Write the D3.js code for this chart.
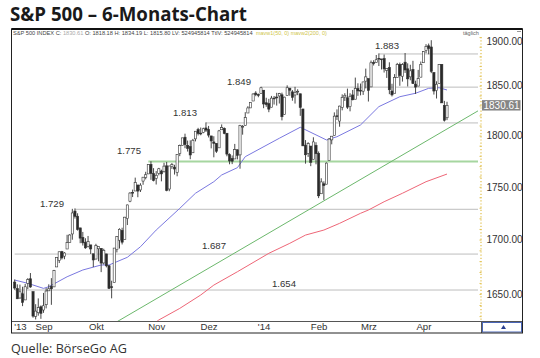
<!DOCTYPE html>
<html><head><meta charset="utf-8">
<script src="https://cdn.jsdelivr.net/npm/d3@7"></script>
<style>body{margin:0;background:#fff}svg{display:block}</style>
</head><body>
<svg id="c" width="540" height="358"></svg>
<script>
// ---------- DATA ----------
const dates = ("2013-08-16 2013-08-19 2013-08-20 2013-08-21 2013-08-22 2013-08-23 2013-08-26 2013-08-27 2013-08-28 2013-08-29 2013-08-30 " +
"2013-09-03 2013-09-04 2013-09-05 2013-09-06 2013-09-09 2013-09-10 2013-09-11 2013-09-12 2013-09-13 2013-09-16 2013-09-17 2013-09-18 2013-09-19 2013-09-20 2013-09-23 2013-09-24 2013-09-25 2013-09-26 2013-09-27 2013-09-30 " +
"2013-10-01 2013-10-02 2013-10-03 2013-10-04 2013-10-07 2013-10-08 2013-10-09 2013-10-10 2013-10-11 2013-10-14 2013-10-15 2013-10-16 2013-10-17 2013-10-18 2013-10-21 2013-10-22 2013-10-23 2013-10-24 2013-10-25 2013-10-28 2013-10-29 2013-10-30 2013-10-31 " +
"2013-11-01 2013-11-04 2013-11-05 2013-11-06 2013-11-07 2013-11-08 2013-11-11 2013-11-12 2013-11-13 2013-11-14 2013-11-15 2013-11-18 2013-11-19 2013-11-20 2013-11-21 2013-11-22 2013-11-25 2013-11-26 2013-11-27 2013-11-29 " +
"2013-12-02 2013-12-03 2013-12-04 2013-12-05 2013-12-06 2013-12-09 2013-12-10 2013-12-11 2013-12-12 2013-12-13 2013-12-16 2013-12-17 2013-12-18 2013-12-19 2013-12-20 2013-12-23 2013-12-24 2013-12-26 2013-12-27 2013-12-30 2013-12-31 " +
"2014-01-02 2014-01-03 2014-01-06 2014-01-07 2014-01-08 2014-01-09 2014-01-10 2014-01-13 2014-01-14 2014-01-15 2014-01-16 2014-01-17 2014-01-21 2014-01-22 2014-01-23 2014-01-24 2014-01-27 2014-01-28 2014-01-29 2014-01-30 2014-01-31 " +
"2014-02-03 2014-02-04 2014-02-05 2014-02-06 2014-02-07 2014-02-10 2014-02-11 2014-02-12 2014-02-13 2014-02-14 2014-02-18 2014-02-19 2014-02-20 2014-02-21 2014-02-24 2014-02-25 2014-02-26 2014-02-27 2014-02-28 " +
"2014-03-03 2014-03-04 2014-03-05 2014-03-06 2014-03-07 2014-03-10 2014-03-11 2014-03-12 2014-03-13 2014-03-14 2014-03-17 2014-03-18 2014-03-19 2014-03-20 2014-03-21 2014-03-24 2014-03-25 2014-03-26 2014-03-27 2014-03-28 2014-03-31 " +
"2014-04-01 2014-04-02 2014-04-03 2014-04-04 2014-04-07 2014-04-08 2014-04-09 2014-04-10 2014-04-11 2014-04-14").split(" ");

const openV = [1661.22,1655.25,1646.81,1650.66,1645.03,1659.92,1664.29,1652.54,1630.25,1633.50,1638.89,
1635.95,1640.72,1653.28,1657.44,1656.85,1675.11,1681.04,1689.21,1685.04,1691.70,1697.73,1705.74,1727.34,1722.44,1711.44,1702.60,1698.02,1694.05,1695.52,1687.26,
1682.41,1691.90,1692.35,1678.79,1687.15,1676.22,1656.99,1660.88,1691.09,1699.86,1709.17,1700.49,1720.17,1736.72,1745.20,1746.48,1752.27,1747.48,1756.01,1759.42,1762.93,1772.27,1763.24,
1758.70,1763.40,1765.67,1765.00,1770.74,1748.37,1769.96,1769.51,1764.37,1782.75,1790.66,1798.82,1790.79,1789.59,1783.52,1797.21,1806.33,1802.87,1803.48,1808.01,
1806.55,1800.10,1794.15,1792.82,1788.36,1806.21,1807.60,1802.76,1781.71,1777.98,1777.48,1786.47,1781.46,1809.00,1810.39,1822.92,1828.02,1834.96,1842.97,1841.47,1842.61,
1845.86,1833.21,1832.31,1828.71,1837.90,1839.00,1840.06,1841.26,1821.36,1840.52,1847.99,1844.23,1841.05,1844.71,1842.29,1826.96,1791.03,1783.00,1790.15,1777.17,1790.88,
1782.68,1743.82,1753.38,1752.99,1776.01,1796.20,1800.45,1820.12,1814.82,1828.46,1839.03,1838.22,1829.24,1841.07,1836.78,1847.66,1845.79,1844.90,1855.12,
1857.68,1849.23,1874.05,1874.18,1878.52,1877.86,1878.26,1866.15,1869.06,1845.07,1842.81,1858.92,1872.25,1860.09,1874.53,1867.67,1859.48,1867.09,1852.11,1850.07,1859.16,
1873.96,1886.61,1891.43,1890.25,1863.92,1845.48,1852.64,1872.28,1830.65,1818.18];

const highV = [1663.60,1659.18,1658.92,1656.99,1659.55,1664.85,1669.51,1652.54,1641.18,1646.41,1640.08,
1651.35,1655.72,1659.17,1664.83,1672.40,1684.09,1689.13,1689.97,1688.73,1704.95,1705.52,1729.44,1729.86,1725.23,1711.44,1707.63,1701.71,1703.85,1695.52,1687.26,
1696.55,1693.87,1692.35,1691.94,1687.15,1676.79,1662.47,1692.56,1703.44,1711.03,1711.57,1721.76,1733.45,1745.31,1747.79,1759.33,1752.27,1753.94,1759.82,1764.99,1772.09,1775.22,1768.53,
1765.67,1768.78,1767.03,1773.74,1774.54,1770.78,1773.44,1771.78,1782.00,1791.53,1798.22,1802.33,1795.51,1795.73,1797.16,1804.84,1808.10,1808.42,1808.27,1813.55,
1810.02,1800.10,1799.80,1792.82,1806.04,1811.52,1808.52,1802.97,1782.99,1780.92,1792.22,1786.77,1811.08,1810.88,1823.75,1829.75,1833.32,1842.84,1844.89,1842.47,1849.44,
1845.86,1838.24,1837.16,1840.10,1840.02,1843.23,1843.15,1843.45,1839.26,1850.84,1847.99,1846.04,1849.31,1846.87,1842.29,1826.96,1795.98,1793.87,1790.15,1798.77,1793.88,
1784.83,1758.73,1755.79,1774.06,1798.03,1799.94,1823.54,1826.55,1830.25,1841.65,1842.87,1847.50,1842.79,1846.13,1858.71,1852.91,1852.65,1854.53,1867.92,
1857.68,1876.23,1876.53,1881.94,1883.57,1877.87,1882.35,1868.38,1874.40,1852.44,1862.30,1873.76,1874.14,1873.49,1883.97,1873.34,1871.87,1875.92,1855.55,1866.63,1875.18,
1885.84,1893.17,1893.80,1897.28,1864.04,1854.95,1872.43,1872.53,1835.07,1834.19];

const lowV = [1654.19,1645.84,1646.08,1639.43,1645.03,1654.81,1656.02,1629.05,1627.47,1630.88,1628.05,
1633.41,1637.41,1653.07,1640.62,1656.85,1675.11,1678.70,1681.96,1682.22,1691.70,1697.73,1700.35,1720.20,1708.89,1697.10,1694.90,1691.88,1693.11,1687.11,1674.99,
1682.07,1680.34,1670.36,1677.33,1674.70,1655.03,1646.47,1660.88,1688.52,1692.13,1695.93,1700.49,1714.12,1735.74,1740.67,1746.48,1740.50,1745.50,1752.45,1757.67,1762.93,1757.24,1755.72,
1752.70,1761.56,1755.76,1764.40,1746.20,1746.23,1767.85,1762.29,1760.64,1780.22,1790.66,1788.00,1784.72,1777.23,1783.52,1794.70,1800.58,1800.77,1802.77,1803.98,
1798.60,1787.85,1779.09,1783.38,1788.36,1806.21,1801.75,1780.09,1772.28,1772.45,1777.48,1777.05,1767.99,1801.35,1810.25,1822.92,1828.02,1834.96,1839.81,1838.77,1842.41,
1827.74,1829.13,1823.73,1828.71,1831.40,1830.38,1832.43,1815.52,1821.36,1840.52,1840.30,1835.23,1832.38,1840.88,1820.06,1790.29,1772.88,1779.49,1770.45,1777.17,1772.26,
1739.66,1743.82,1737.92,1752.99,1776.01,1791.83,1800.41,1815.97,1809.22,1825.59,1835.01,1826.99,1824.58,1835.60,1836.78,1840.19,1840.66,1841.13,1847.67,
1834.44,1849.23,1871.11,1874.18,1870.56,1867.04,1863.88,1858.39,1841.86,1839.57,1842.81,1858.92,1850.35,1854.63,1863.46,1849.69,1855.96,1852.56,1842.11,1850.07,1859.16,
1873.96,1883.79,1882.65,1863.26,1841.48,1837.49,1852.38,1833.08,1814.36,1815.80];

const closeV = [1655.83,1646.06,1652.35,1642.80,1656.96,1663.50,1656.78,1630.48,1634.96,1638.17,1632.97,
1639.77,1653.08,1655.08,1655.17,1671.71,1683.99,1689.13,1683.42,1687.99,1697.60,1704.76,1725.52,1722.34,1709.91,1701.84,1697.42,1692.77,1698.67,1691.75,1681.55,
1695.00,1693.87,1678.66,1690.50,1676.12,1655.45,1656.40,1692.56,1703.20,1710.14,1698.06,1721.54,1733.15,1744.50,1744.66,1754.67,1746.38,1752.07,1759.77,1762.11,1771.95,1763.31,1756.54,
1761.64,1767.93,1762.97,1770.49,1747.15,1770.61,1771.89,1767.69,1782.00,1790.62,1798.18,1791.53,1787.87,1781.37,1795.85,1804.76,1802.48,1802.75,1807.23,1805.81,
1800.90,1795.15,1792.81,1785.03,1805.09,1808.37,1802.62,1782.22,1775.50,1775.32,1786.54,1781.00,1810.65,1809.60,1818.32,1827.99,1833.32,1842.02,1841.40,1841.07,1848.36,
1831.98,1831.37,1826.77,1837.88,1837.49,1838.13,1842.37,1819.20,1838.88,1848.38,1845.89,1838.70,1843.80,1844.86,1828.46,1790.29,1781.56,1792.50,1774.20,1794.19,1782.59,
1741.89,1755.20,1751.64,1773.43,1797.02,1799.84,1819.75,1819.26,1829.83,1838.63,1840.76,1828.75,1839.78,1836.25,1847.61,1845.12,1845.16,1854.29,1859.45,
1845.73,1873.91,1873.81,1877.03,1878.04,1877.17,1867.63,1868.20,1846.34,1841.13,1858.83,1872.25,1860.77,1872.01,1866.52,1857.44,1865.62,1852.56,1849.04,1857.62,1872.34,
1885.52,1890.90,1888.77,1865.09,1845.04,1851.96,1872.18,1833.08,1815.69,1830.61];

// 50-day moving average (blue)
const ma50Dates = ["2013-08-16","2013-08-23","2013-09-03","2013-09-05","2013-09-16","2013-09-24","2013-10-03","2013-10-08","2013-10-17","2013-10-24","2013-11-01","2013-11-14","2013-11-22","2013-12-04","2013-12-09","2013-12-17","2013-12-20","2014-01-10","2014-01-23","2014-02-06","2014-02-12","2014-02-26","2014-03-07","2014-03-19","2014-03-27","2014-04-03","2014-04-09","2014-04-14"];
const ma50Values = [1663.1,1660.1,1655.5,1657.0,1666.1,1672.3,1676.9,1676.9,1684.0,1693.8,1709.4,1729.9,1744.3,1755.4,1761.9,1769.0,1779.7,1797.8,1808.7,1796.1,1799.3,1811.0,1829.3,1839.3,1842.8,1847.8,1848.4,1846.1];

// 200-day moving average (red)
const ma200Dates = ["2013-10-31","2013-11-04","2013-11-14","2013-11-26","2013-12-04","2013-12-17","2014-01-06","2014-01-16","2014-01-27","2014-02-05","2014-02-13","2014-02-26","2014-03-03","2014-03-11","2014-03-20","2014-04-02","2014-04-14"];
const ma200Values = [1623.5,1627.0,1637.4,1649.5,1658.5,1670.7,1687.7,1697.0,1704.7,1709.4,1715.7,1725.2,1728.3,1736.2,1744.3,1755.4,1762.8];

// Trend line (green)
const trendDates = ["2013-10-11","2014-04-14"];
const trendValues = [1625.4,1807.0];

// Horizontal levels
const levelValues = [1883,1849,1813,1775,1729,1687,1654];
const levelLabels = ["1.883","1.849","1.813","1.775","1.729","1.687","1.654"];
const levelStartDates = ["2014-03-07","2013-12-31","2013-11-29","2013-10-29","2013-09-19","2013-08-16","2013-08-16"];

// Axis ticks
const yTicks = [1650,1700,1750,1800,1850,1900];
const monthTickDates = ["2013-08-20","2013-09-03","2013-10-01","2013-11-01","2013-12-02","2014-01-02","2014-02-03","2014-03-03","2014-04-01"];
const monthLabels = ["'13","Sep","Okt","Nov","Dez","'14","Feb","Mrz","Apr"];

const lastClose = 1830.61;
const headerText = "S&P 500 INDEX C: ";
const headerClose = "1830.61";
const headerRest = " O: 1818.18 H: 1834.19 L: 1815.80 LV: 524945814 TtlV: 524945814";
const headerMA = "mavw1(50, 0) mavw2(200, 0)";

// ---------- LAYOUT ----------
const svg = d3.select("#c");
const plot = {l: 12, t: 30, r: 481, b: 321};
const frame = {l: 11.5, t: 29, r: 522.5, b: 333};
const FONT = "'Liberation Sans', Arial, sans-serif";

const idx = d => dates.indexOf(d);
const x = d3.scaleLinear().domain([0, dates.length - 1]).range([14.7, 447]);
const y = d3.scaleLog().domain([1626.1, 1909.0]).range([321, 29]);

// Title
function fitText(sel, w) {
  const cur = sel.node().getComputedTextLength();
  const fs = parseFloat(sel.attr("font-size"));
  sel.attr("font-size", (fs * w / cur).toFixed(2));
}
const title = svg.append("text").attr("x", 10).attr("y", 21)
  .attr("font-family", "'Open Sans', sans-serif").attr("font-weight", 700)
  .attr("font-size", 20).attr("fill", "#1a1a1a").text("S&P 500 – 6-Monats-Chart");
fitText(title, 237);

const src = svg.append("text").attr("x", 11).attr("y", 353)
  .attr("font-family", "'Open Sans', sans-serif")
  .attr("font-size", 13).attr("fill", "#333").text("Quelle: BörseGo AG");
fitText(src, 116);

// clip
svg.append("defs").append("clipPath").attr("id", "pc")
  .append("rect").attr("x", plot.l).attr("y", plot.t).attr("width", plot.r - plot.l).attr("height", plot.b - plot.t);
const g = svg.append("g").attr("clip-path", "url(#pc)");

// Level lines
const lvlEndX = plot.r - 3;
levelValues.forEach((v, i) => {
  const isGreen = v === 1775;
  g.append("line")
    .attr("x1", x(idx(levelStartDates[i]))).attr("x2", lvlEndX)
    .attr("y1", y(v)).attr("y2", y(v))
    .attr("stroke", isGreen ? "#a6d6a0" : "#bdbdbd")
    .attr("stroke-width", isGreen ? 2 : 1);
});
// Level labels (text placement)
const lvlLabelX = [375, 227, 173, 117, 40, 202, 272];
const lvlLabelDy = [8, 5.3, 10.6, 11, 5.3, 8.6, 6.7];
levelValues.forEach((v, i) => {
  svg.append("text").attr("x", lvlLabelX[i]).attr("y", y(v) - lvlLabelDy[i] + 3.4)
    .attr("font-family", FONT).attr("font-size", 9.6).attr("fill", "#333")
    .text(levelLabels[i]);
});

// Trend line (extended to the axis)
{
  const x1 = x(idx(trendDates[0])), y1 = y(trendValues[0]);
  const x2 = x(idx(trendDates[1])), y2 = y(trendValues[1]);
  const slope = (y2 - y1) / (x2 - x1);
  const xe = plot.r - 3;
  g.append("line").attr("x1", x1).attr("y1", y1)
    .attr("x2", xe).attr("y2", y1 + slope * (xe - x1))
    .attr("stroke", "#6cb86c").attr("stroke-width", 1);
}

// Moving averages
const line = d3.line().x(d => x(idx(d[0]))).y(d => y(d[1]));
g.append("path").datum(ma200Dates.map((d, i) => [d, ma200Values[i]]))
  .attr("d", line).attr("fill", "none").attr("stroke", "#ee6677").attr("stroke-width", 1);
g.append("path").datum(ma50Dates.map((d, i) => [d, ma50Values[i]]))
  .attr("d", line).attr("fill", "none").attr("stroke", "#7a78e0").attr("stroke-width", 1);

// Candles
const candles = g.append("g");
dates.forEach((d, i) => {
  const o = openV[i], c = closeV[i], h = highV[i], l = lowV[i];
  const cx = x(i);
  candles.append("line").attr("x1", cx).attr("x2", cx).attr("y1", y(h)).attr("y2", y(l))
    .attr("stroke", "#333").attr("stroke-width", 0.9);
  const top = y(Math.max(o, c)), bot = y(Math.min(o, c));
  candles.append("rect").attr("x", cx - 1.1).attr("y", top)
    .attr("width", 2.2).attr("height", Math.max(0.8, bot - top))
    .attr("fill", c >= o ? "#ffffff" : "#2a2a2a")
    .attr("stroke", "#333").attr("stroke-width", 0.6);
});

// Y axis: dotted yellow line + minor ticks + labels
svg.append("line").attr("x1", plot.r).attr("x2", plot.r).attr("y1", 37).attr("y2", plot.b)
  .attr("stroke", "#e2c458").attr("stroke-width", 1.3).attr("stroke-dasharray", "1.2,2");
const minor = d3.range(1630, 1910, 10);
svg.append("g").selectAll("line").data(minor).join("line")
  .attr("x1", plot.r - 1.5).attr("x2", plot.r + 0.5)
  .attr("y1", d => y(d)).attr("y2", d => y(d))
  .attr("stroke", "#e2c458").attr("stroke-width", 1);
const yAxis = d3.axisRight(y).tickValues(yTicks).tickFormat(d3.format(".2f")).tickSize(0).tickPadding(0);
const ya = svg.append("g").attr("transform", `translate(${plot.r + 5.5},0)`).call(yAxis);
ya.select(".domain").remove();
ya.selectAll(".tick").attr("transform", d => `translate(0,${Math.max(y(d), 41.5)})`);
ya.selectAll("text").attr("font-family", FONT).attr("font-size", 10).attr("fill", "#333").attr("x", 0);

// last price box
svg.append("rect").attr("x", plot.r + 1).attr("y", y(lastClose) - 5.2).attr("width", 38.5).attr("height", 10.4)
  .attr("fill", "#858585");
svg.append("text").attr("x", plot.r + 2.5).attr("y", y(lastClose) + 3.6)
  .attr("font-family", FONT).attr("font-size", 10).attr("fill", "#fff").text(d3.format(".2f")(lastClose));

// X axis strip
const xa = svg.append("g").attr("transform", `translate(0,${plot.b})`)
  .call(d3.axisBottom(x).tickValues(monthTickDates.map(idx)).tickFormat((d, i) => monthLabels[i]).tickSize(0).tickPadding(0));
xa.select(".domain").remove();
xa.selectAll("text").attr("font-family", FONT).attr("font-size", 9.6).attr("fill", "#333").attr("dy", "0.95em").attr("y", 0.2);

svg.append("line").attr("x1", frame.l).attr("x2", frame.r).attr("y1", plot.b + 0.5).attr("y2", plot.b + 0.5)
  .attr("stroke", "#555").attr("stroke-width", 1);
svg.append("line").attr("x1", plot.r + 0.5).attr("x2", plot.r + 0.5).attr("y1", plot.b + 0.5).attr("y2", frame.b)
  .attr("stroke", "#555");
svg.append("rect").attr("x", plot.r + 1.5).attr("y", plot.b + 1.5).attr("width", frame.r - plot.r - 2.5).attr("height", frame.b - plot.b - 2.5)
  .attr("fill", "none").attr("stroke", "#4a66b8").attr("stroke-width", 1);
svg.append("path").attr("d", `M${plot.r + 20},${plot.b + 8} l2.5,-4 l2.5,4 z`).attr("fill", "#2a3f90");

// Frame
svg.append("rect").attr("x", frame.l).attr("y", frame.t).attr("width", frame.r - frame.l).attr("height", frame.b - frame.t)
  .attr("fill", "none").attr("stroke", "#222").attr("stroke-width", 1);
svg.append("line").attr("x1", frame.l).attr("x2", frame.r).attr("y1", frame.t).attr("y2", frame.t)
  .attr("stroke", "#111").attr("stroke-width", 2);
svg.append("line").attr("x1", 517).attr("x2", 521).attr("y1", 31.5).attr("y2", 31.5).attr("stroke", "#999");

// Header
const hdr = svg.append("text").attr("x", 13).attr("y", 35).attr("font-family", FONT).attr("font-size", 5.5).attr("fill", "#444");
hdr.append("tspan").text(headerText);
hdr.append("tspan").attr("fill", "#aaa").text(headerClose);
hdr.append("tspan").text(headerRest);
{
  const w = hdr.node().getComputedTextLength();
  hdr.attr("font-size", (5.5 * 240 / w).toFixed(2));
}
const hdr2 = svg.append("text").attr("x", 256).attr("y", 35).attr("font-family", FONT).attr("font-size", 5.5)
  .attr("fill", "#cfc64a").text(headerMA);
fitText(hdr2, 71);
svg.append("text").attr("x", 463).attr("y", 35).attr("font-family", FONT).attr("font-size", 5.5).attr("fill", "#666").text("täglich");
</script>
</body></html>
